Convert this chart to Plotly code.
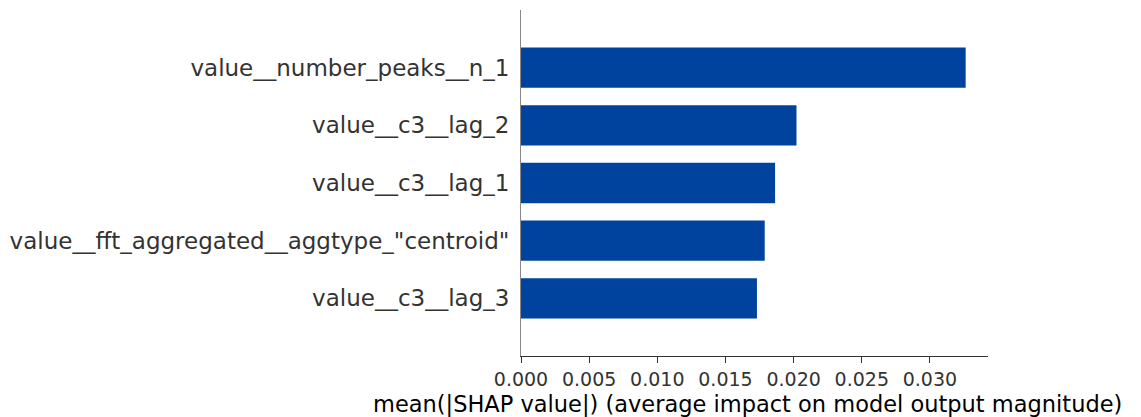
import plotly.graph_objects as go

# Mean absolute SHAP value per feature (ordered bottom to top)
features = [
    "value__c3__lag_3",
    'value__fft_aggregated__aggtype_"centroid"',
    "value__c3__lag_1",
    "value__c3__lag_2",
    "value__number_peaks__n_1",
]
mean_abs_shap = [0.01731, 0.01788, 0.01864, 0.02021, 0.03262]
tick_vals = [0.000, 0.005, 0.010, 0.015, 0.020, 0.025, 0.030]
tick_text = ["0.000", "0.005", "0.010", "0.015", "0.020", "0.025", "0.030"]
x_title = "mean(|SHAP value|) (average impact on model output magnitude)"

positions = list(range(len(features)))

fig = go.Figure(
    go.Bar(
        x=mean_abs_shap,
        y=positions,
        orientation="h",
        width=0.7,
        marker=dict(color="#00439e", line=dict(width=0)),
    )
)

fig.update_layout(
    width=1141,
    height=417,
    margin=dict(l=521, r=153, t=10, b=61),
    paper_bgcolor="white",
    plot_bgcolor="white",
    font=dict(family="DejaVu Sans", color="#333333"),
    showlegend=False,
)

# x-axis label, placed slightly left of the plot-area centre
fig.add_annotation(
    text=x_title,
    xref="paper",
    yref="paper",
    x=0.484,
    y=-0.138,
    xanchor="center",
    yanchor="middle",
    showarrow=False,
    font=dict(size=22.5, color="#000000"),
)

fig.update_xaxes(
    range=[0, 0.03426],
    automargin=False,
    tickvals=tick_vals,
    ticktext=tick_text,
    tickfont=dict(size=19, color="#333333"),
    ticks="outside",
    ticklen=6,
    tickwidth=1,
    tickcolor="#333333",
    showline=True,
    linecolor="#333333",
    linewidth=1,
    showgrid=False,
    zeroline=False,
)

fig.update_yaxes(
    range=[-1, 5],
    automargin=False,
    tickvals=positions,
    ticktext=features,
    tickfont=dict(size=23, color="#333333"),
    ticks="",
    ticklabelstandoff=6,
    showline=True,
    linecolor="#888888",
    linewidth=1,
    showgrid=False,
    zeroline=False,
)

fig.write_html("out.html")
